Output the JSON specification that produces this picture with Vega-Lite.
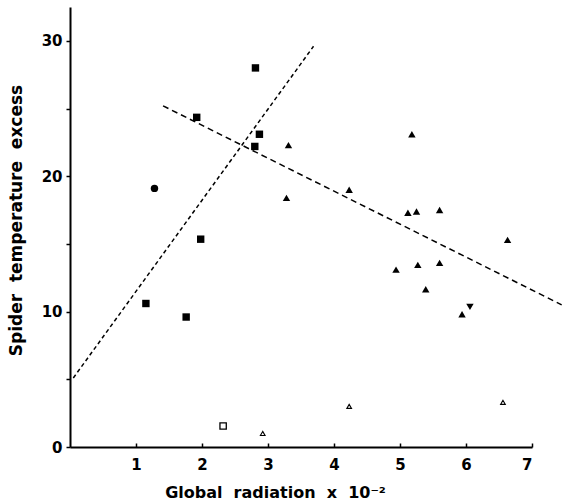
{
  "$schema": "https://vega.github.io/schema/vega-lite/v6.json",
  "autosize": {"type": "none"},
  "padding": {"left": 70, "top": 7, "right": 30, "bottom": 57},
  "width": 462,
  "height": 440,
  "background": "white",
  "config": {
    "view": {"stroke": null},
    "axis": {
      "grid": false,
      "domainColor": "black",
      "domainWidth": 2,
      "tickColor": "black",
      "tickWidth": 1.5,
      "labelColor": "black",
      "labelFont": "DejaVu Sans",
      "labelFontWeight": "bold",
      "labelFontSize": 15,
      "titleFont": "DejaVu Sans",
      "titleFontWeight": "bold",
      "titleFontSize": 16,
      "titleColor": "black"
    }
  },
  "datasets": {
    "points": [
      {"x": 1.15, "y": 10.6, "series": "A"},
      {"x": 1.76, "y": 9.6, "series": "A"},
      {"x": 1.98, "y": 15.35, "series": "A"},
      {"x": 1.92, "y": 24.35, "series": "A"},
      {"x": 2.81, "y": 28.0, "series": "A"},
      {"x": 2.87, "y": 23.1, "series": "A"},
      {"x": 2.80, "y": 22.2, "series": "A"},
      {"x": 1.28, "y": 19.1, "series": "A*"},
      {"x": 3.31, "y": 22.3, "series": "B"},
      {"x": 3.28, "y": 18.4, "series": "B"},
      {"x": 4.23, "y": 19.0, "series": "B"},
      {"x": 5.18, "y": 23.1, "series": "B"},
      {"x": 5.12, "y": 17.3, "series": "B"},
      {"x": 5.25, "y": 17.4, "series": "B"},
      {"x": 5.60, "y": 17.5, "series": "B"},
      {"x": 6.63, "y": 15.3, "series": "B"},
      {"x": 4.94, "y": 13.1, "series": "B"},
      {"x": 5.27, "y": 13.45, "series": "B"},
      {"x": 5.60, "y": 13.6, "series": "B"},
      {"x": 5.39, "y": 11.65, "series": "B"},
      {"x": 5.94, "y": 9.8, "series": "B"},
      {"x": 6.06, "y": 10.35, "series": "B*"},
      {"x": 2.32, "y": 1.55, "series": "C"},
      {"x": 2.92, "y": 1.0, "series": "D"},
      {"x": 4.23, "y": 3.0, "series": "D"},
      {"x": 6.56, "y": 3.3, "series": "D"}
    ],
    "fits": [
      {"fit": "A", "x": 0.05, "y": 5.1},
      {"fit": "A", "x": 3.69, "y": 29.6},
      {"fit": "B", "x": 1.41, "y": 25.2},
      {"fit": "B", "x": 7.45, "y": 10.5}
    ]
  },
  "encoding": {
    "x": {
      "field": "x", "type": "quantitative",
      "scale": {"domain": [0, 7], "nice": false, "zero": true},
      "axis": {
        "values": [1, 2, 3, 4, 5, 6, 7],
        "tickSize": -4,
        "labelPadding": 14,
        "title": "Global\u00a0\u00a0radiation\u00a0\u00a0x\u00a0\u00a010⁻²",
        "titleX": 205,
        "titlePadding": 12
      }
    },
    "y": {
      "field": "y", "type": "quantitative",
      "scale": {"domain": [0, 32.5], "nice": false},
      "axis": {
        "values": [0, 5, 10, 15, 20, 25, 30],
        "labelExpr": "datum.value % 10 == 0 ? datum.label : ''",
        "tickSize": 4,
        "labelPadding": 4,
        "title": "Spider\u00a0\u00a0temperature\u00a0\u00a0excess",
        "titleFontSize": 17,
        "titleY": 213,
        "titlePadding": 16
      }
    }
  },
  "layer": [
    {
      "data": {"name": "fits"},
      "transform": [{"filter": "datum.fit == 'A'"}],
      "mark": {"type": "line", "color": "black", "strokeWidth": 1.5, "strokeDash": [4, 3], "clip": false}
    },
    {
      "data": {"name": "fits"},
      "transform": [{"filter": "datum.fit == 'B'"}],
      "mark": {"type": "line", "color": "black", "strokeWidth": 1.5, "strokeDash": [6, 4], "clip": false}
    },
    {
      "data": {"name": "points"},
      "transform": [{"filter": "indexof(['A','A*','B','B*'], datum.series) >= 0"}],
      "mark": {"type": "point", "filled": true, "color": "black", "opacity": 1, "size": 55},
      "encoding": {
        "shape": {
          "field": "series", "type": "nominal",
          "scale": {"domain": ["A", "A*", "B", "B*"], "range": ["square", "circle", "triangle-up", "triangle-down"]},
          "legend": null
        }
      }
    },
    {
      "data": {"name": "points"},
      "transform": [{"filter": "datum.series == 'C'"}],
      "mark": {"type": "point", "shape": "square", "filled": false, "color": "black", "opacity": 1, "size": 40, "strokeWidth": 1.3}
    },
    {
      "data": {"name": "points"},
      "transform": [{"filter": "datum.series == 'D'"}],
      "mark": {"type": "point", "shape": "triangle-up", "filled": false, "color": "black", "opacity": 1, "size": 22, "strokeWidth": 1.1}
    }
  ]
}
